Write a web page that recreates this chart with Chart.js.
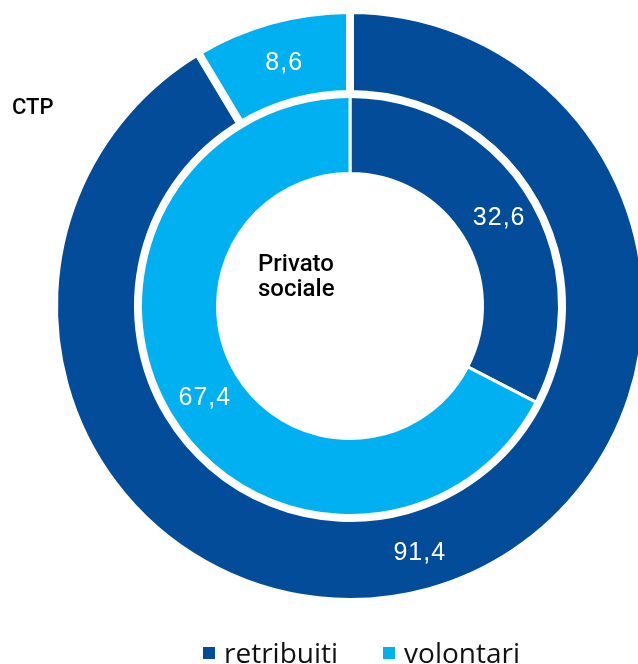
<!DOCTYPE html>
<html lang="it">
<head>
<meta charset="utf-8">
<title>Retribuiti e volontari: CTP e privato sociale</title>
<script src="https://cdn.jsdelivr.net/npm/chart.js@4.4.1/dist/chart.umd.min.js"></script>
<style>
  html, body { margin: 0; padding: 0; background: #fff; }
  body { width: 638px; height: 664px; overflow: hidden; position: relative; }
  #wrap { position: absolute; left: 0; top: 0; width: 660px; height: 664px; }
  .tag { position: absolute; color: #000; font-family: Roboto, "Liberation Sans", sans-serif; font-weight: 500; white-space: nowrap; }
  #tag-ctp { left: 12px; top: 94px; font-size: 22px; line-height: 26px; }
  #tag-ps { left: 258px; top: 251px; font-size: 24px; line-height: 25px; }
  #legend { position: absolute; left: 203px; top: 638px; height: 28px; display: flex; }
  .item { position: relative; padding-left: 21px; margin-right: 45px;
          font-family: "Open Sans", Roboto, sans-serif; font-size: 28px; line-height: 28px; color: #111; white-space: nowrap; }
  .item i { position: absolute; left: 0; top: 9px; width: 12px; height: 12px; }
</style>
</head>
<body>
<div id="wrap"><canvas id="chart" width="660" height="664"></canvas></div>
<div class="tag" id="tag-ctp"></div>
<div class="tag" id="tag-ps"></div>
<div id="legend"></div>
<script>
// Categories and shares (%) for each ring
const categories = ['retribuiti', 'volontari'];
const ctpValues = [91.4, 8.6];          // outer ring
const privatoValues = [32.6, 67.4];     // inner ring
const ringNames = ['CTP', 'Privato sociale'];

const palette = ['#034C9A', '#00B0F0'];

const fmt = v => v.toFixed(1).replace('.', ',');

// White value labels placed at the centre of each arc
const arcLabels = {
  id: 'arcLabels',
  afterDatasetsDraw(chart) {
    const ctx = chart.ctx;
    ctx.save();
    ctx.fillStyle = '#fff';
    ctx.font = '25px "Liberation Sans", Arial, sans-serif';
    ctx.letterSpacing = '1px';
    ctx.textAlign = 'center';
    ctx.textBaseline = 'alphabetic';
    chart.data.datasets.forEach((ds, i) => {
      chart.getDatasetMeta(i).data.forEach((arc, j) => {
        const p = arc.tooltipPosition();
        ctx.fillText(fmt(ds.data[j]), p.x + 2, p.y + 9);
      });
    });
    ctx.restore();
  }
};

const chart = new Chart(document.getElementById('chart'), {
  type: 'doughnut',
  data: {
    labels: categories,
    datasets: [
      { label: ringNames[0], data: ctpValues, backgroundColor: palette,
        borderColor: '#fff', borderWidth: 8, weight: 84 },
      { label: ringNames[1], data: privatoValues, backgroundColor: palette,
        borderColor: '#fff', borderWidth: 3, weight: 79.5 }
    ]
  },
  options: {
    responsive: false,
    devicePixelRatio: 1,
    animation: false,
    radius: 296,
    cutout: (132.5 / 296 * 100) + '%',
    rotation: 0,
    layout: { padding: { left: 58, right: 18, top: 14, bottom: 66 } },
    plugins: {
      legend: { display: false },
      tooltip: { enabled: false }
    }
  },
  plugins: [arcLabels]
});

// Ring names
document.getElementById('tag-ctp').textContent = ringNames[0];
document.getElementById('tag-ps').innerHTML = ringNames[1].replace(' ', '<br>');

// Legend built from the chart's own labels and colours
const legend = document.getElementById('legend');
chart.data.labels.forEach((lab, k) => {
  const item = document.createElement('div');
  item.className = 'item';
  const sw = document.createElement('i');
  sw.style.background = chart.data.datasets[0].backgroundColor[k];
  item.appendChild(sw);
  item.appendChild(document.createTextNode(lab));
  legend.appendChild(item);
});
</script>
</body>
</html>
